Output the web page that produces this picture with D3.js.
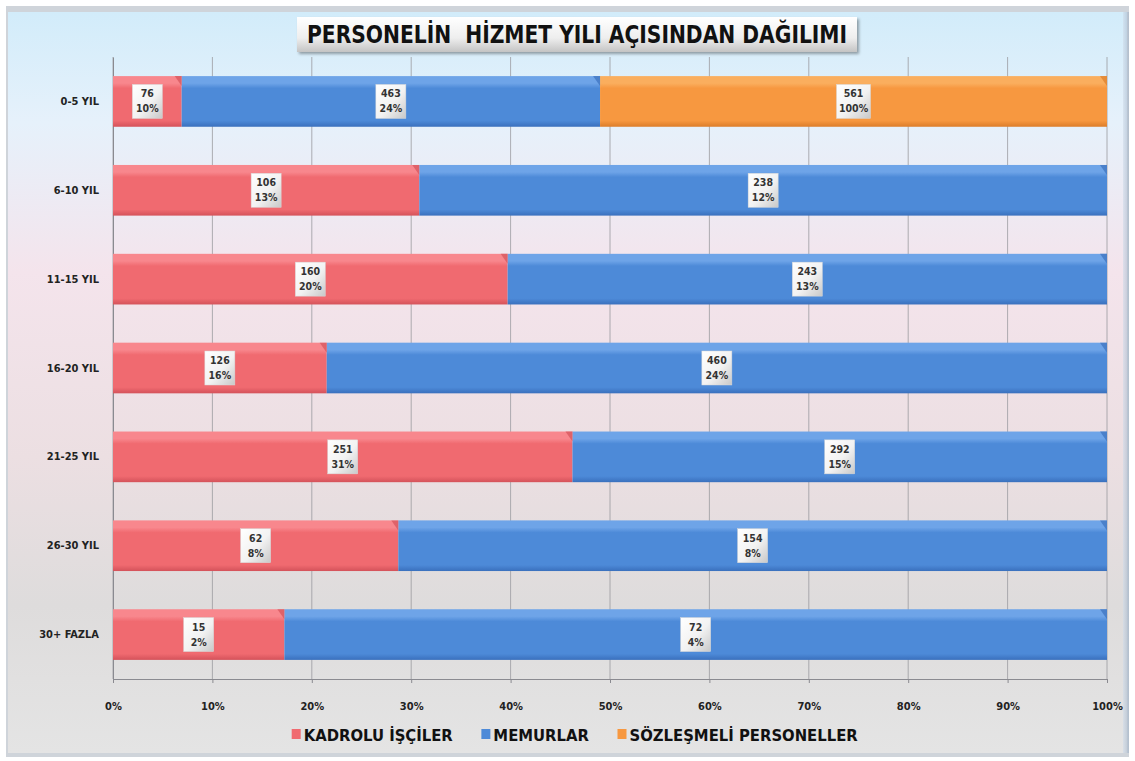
<!DOCTYPE html>
<html>
<head>
<meta charset="utf-8">
<script src="https://cdn.jsdelivr.net/npm/d3@7"></script>
<style>
  body { margin: 0; background: #fff; }
  svg { display: block; }
  text { font-family: "Liberation Sans Narrow", "DejaVu Sans Condensed", "Liberation Sans", sans-serif; font-weight: bold; }
</style>
</head>
<body>
<div id="chart"></div>
<script>
const categories = ["0-5 YIL", "6-10 YIL", "11-15 YIL", "16-20 YIL", "21-25 YIL", "26-30 YIL", "30+ FAZLA"]
const seriesNames = ["KADROLU İŞÇİLER", "MEMURLAR", "SÖZLEŞMELİ PERSONELLER"]
const kadrolu = [76, 106, 160, 126, 251, 62, 15]
const memurlar = [463, 238, 243, 460, 292, 154, 72]
const sozlesmeli = [561, 0, 0, 0, 0, 0, 0]
const kadroluPct = ["10%", "13%", "20%", "16%", "31%", "8%", "2%"]
const memurlarPct = ["24%", "12%", "13%", "24%", "15%", "8%", "4%"]
const sozlesmeliPct = ["100%", "", "", "", "", "", ""]
const xTicks = [0, 0.1, 0.2, 0.3, 0.4, 0.5, 0.6, 0.7, 0.8, 0.9, 1]
const title = "PERSONELİN  HİZMET YILI AÇISINDAN DAĞILIMI"

const colors = [
    { base: "#f06a70", light: "#f8878d", dark: "#d4525a" },
    { base: "#4d8ad8", light: "#6ea4e8", dark: "#3a70bd" },
    { base: "#f79840", light: "#faae5e", dark: "#dc7d2a" }
]

const width = 1135, height = 761
const margin = { top: 57, right: 28, bottom: 82, left: 113 }

const svg = d3.select("#chart").append("svg")
    .attr("width", width)
    .attr("height", height)

const defs = svg.append("defs")

// background gradient: blue at top, pink middle, grey at bottom
const bg = defs.append("linearGradient").attr("id", "bg")
    .attr("x1", 0).attr("y1", 0).attr("x2", 0).attr("y2", 1)
bg.append("stop").attr("offset", "0%").attr("stop-color", "#d2ecfa")
bg.append("stop").attr("offset", "15%").attr("stop-color", "#e6f1fb")
bg.append("stop").attr("offset", "35%").attr("stop-color", "#f4e4ec")
bg.append("stop").attr("offset", "60%").attr("stop-color", "#ecdfe2")
bg.append("stop").attr("offset", "80%").attr("stop-color", "#dedcdc")
bg.append("stop").attr("offset", "100%").attr("stop-color", "#e4e4e4")

const edge = defs.append("linearGradient").attr("id", "edge")
    .attr("x1", 0).attr("y1", 0).attr("x2", 1).attr("y2", 0)
edge.append("stop").attr("offset", "0%").attr("stop-color", "#d0dcea")
edge.append("stop").attr("offset", "100%").attr("stop-color", "#9fb0c4")

colors.forEach((c, i) => {
    const g = defs.append("linearGradient").attr("id", "bar" + i)
        .attr("x1", 0).attr("y1", 0).attr("x2", 0).attr("y2", 1)
    g.append("stop").attr("offset", "0%").attr("stop-color", c.light)
    g.append("stop").attr("offset", "14%").attr("stop-color", c.light)
    g.append("stop").attr("offset", "24%").attr("stop-color", c.base)
    g.append("stop").attr("offset", "88%").attr("stop-color", c.base)
    g.append("stop").attr("offset", "100%").attr("stop-color", c.dark)
})

const boxGrad = defs.append("linearGradient").attr("id", "box")
    .attr("x1", 0).attr("y1", 0).attr("x2", 1).attr("y2", 1)
boxGrad.append("stop").attr("offset", "0%").attr("stop-color", "#ffffff")
boxGrad.append("stop").attr("offset", "55%").attr("stop-color", "#f2f2f2")
boxGrad.append("stop").attr("offset", "100%").attr("stop-color", "#c8c8c8")

const titleGrad = defs.append("linearGradient").attr("id", "titlebox")
    .attr("x1", 0).attr("y1", 0).attr("x2", 0).attr("y2", 1)
titleGrad.append("stop").attr("offset", "0%").attr("stop-color", "#ffffff")
titleGrad.append("stop").attr("offset", "60%").attr("stop-color", "#eeeeee")
titleGrad.append("stop").attr("offset", "100%").attr("stop-color", "#c4c4c4")

const shadow = defs.append("filter").attr("id", "shadow")
    .attr("x", "-10%").attr("y", "-20%").attr("width", "130%").attr("height", "160%")
shadow.append("feDropShadow").attr("dx", 2).attr("dy", 2).attr("stdDeviation", 1.5)
    .attr("flood-color", "#000").attr("flood-opacity", 0.35)

// frame
svg.append("rect").attr("x", 6).attr("y", 6).attr("width", width - 12).attr("height", height - 10)
    .attr("fill", "#cfd4da")
svg.append("rect").attr("x", 8).attr("y", 12).attr("width", width - 16).attr("height", height - 20)
    .attr("fill", "url(#bg)")
svg.append("rect").attr("x", width - 12).attr("y", 12).attr("width", 6).attr("height", height - 20)
    .attr("fill", "url(#edge)").attr("opacity", 0.6)

// stacked data, normalised to 100%
const rows = categories.map((c, i) => ({
    cat: c,
    values: [kadrolu[i], memurlar[i], sozlesmeli[i]],
    pct: [kadroluPct[i], memurlarPct[i], sozlesmeliPct[i]]
}))

const x = d3.scaleLinear().domain([0, 1]).range([113, 1107])

const y = d3.scaleBand()
    .domain(categories)
    .range([margin.top, height - margin.bottom])
    .paddingInner(0.43)
    .paddingOuter(0.215)

// gridlines
svg.append("g")
    .selectAll("line")
    .data(xTicks)
    .join("line")
    .attr("x1", d => x(d)).attr("x2", d => x(d))
    .attr("y1", margin.top).attr("y2", height - margin.bottom)
    .attr("stroke", "#9a9aa0").attr("stroke-width", 0.8)

// axes
const xAxis = svg.append("g")
    .attr("transform", `translate(0,${height - margin.bottom})`)
    .call(d3.axisBottom(x).tickValues(xTicks).tickFormat(d3.format(".0%")).tickSize(4).tickPadding(19))
xAxis.select(".domain").attr("stroke", "#8a8a90")
xAxis.selectAll(".tick line").attr("stroke", "#8a8a90")
xAxis.selectAll("text").attr("font-size", 11).attr("fill", "#222")
    .attr("font-family", "\"DejaVu Sans Condensed\", sans-serif")

const yAxis = svg.append("g")
    .attr("transform", `translate(${margin.left},0)`)
    .call(d3.axisLeft(y).tickSize(0).tickPadding(14))
yAxis.select(".domain").attr("stroke", "#8a8a90")
yAxis.selectAll("text").attr("font-size", 11).attr("fill", "#222")
    .attr("font-family", "\"DejaVu Sans Condensed\", sans-serif")

// bars
const barGroups = svg.append("g")
    .selectAll("g")
    .data(rows)
    .join("g")

barGroups.each(function (row) {
    const total = d3.sum(row.values)
    let acc = 0
    const segs = row.values.map((v, k) => {
        const s = { k, v, p: row.pct[k], x0: acc / total, x1: (acc + v) / total }
        acc += v
        return s
    }).filter(s => s.v > 0)

    const g = d3.select(this)
    const yy = y(row.cat), h = y.bandwidth()

    g.selectAll("rect.seg")
        .data(segs)
        .join("rect")
        .attr("class", "seg")
        .attr("x", s => x(s.x0))
        .attr("y", yy)
        .attr("width", s => x(s.x1) - x(s.x0))
        .attr("height", h)
        .attr("fill", s => "url(#bar" + s.k + ")")

    // small bevel at the end of each segment
    g.selectAll("path.bevel")
        .data(segs)
        .join("path")
        .attr("class", "bevel")
        .attr("d", s => {
            const xe = x(s.x1)
            return `M${xe - 7},${yy} L${xe},${yy} L${xe},${yy + 10} Z`
        })
        .attr("fill", s => colors[s.k].dark)
        .attr("opacity", 0.7)

    const labels = g.selectAll("g.lab")
        .data(segs)
        .join("g")
        .attr("class", "lab")
        .attr("transform", s => `translate(${(x(s.x0) + x(s.x1)) / 2},${yy + h / 2})`)

    labels.append("rect")
        .attr("x", s => -(s.p.length > 3 ? 17 : 15))
        .attr("y", -17)
        .attr("width", s => s.p.length > 3 ? 34 : 30)
        .attr("height", 34)
        .attr("fill", "url(#box)")
        .attr("stroke", "#d8d8d8").attr("stroke-width", 0.5)

    labels.append("text")
        .attr("text-anchor", "middle")
        .attr("y", -4)
        .attr("font-size", 10.5)
        .attr("fill", "#333")
        .attr("font-family", "\"DejaVu Sans Condensed\", sans-serif")
        .text(s => s.v)

    labels.append("text")
        .attr("text-anchor", "middle")
        .attr("y", 11)
        .attr("font-size", 10.5)
        .attr("fill", "#333")
        .attr("font-family", "\"DejaVu Sans Condensed\", sans-serif")
        .text(s => s.p)
})

// title
const tg = svg.append("g")
tg.append("rect")
    .attr("x", 297).attr("y", 17).attr("width", 560).attr("height", 35)
    .attr("fill", "url(#titlebox)")
    .attr("filter", "url(#shadow)")
tg.append("text")
    .attr("x", 577).attr("y", 43)
    .attr("text-anchor", "middle")
    .attr("font-size", 24)
    .attr("fill", "#111")
    .attr("textLength", 540)
    .attr("lengthAdjust", "spacingAndGlyphs")
    .style("white-space", "pre")
    .text(title)

// legend
const legend = svg.append("g").attr("transform", "translate(0,735)")
const items = legend.selectAll("g")
    .data(seriesNames)
    .join("g")
items.append("rect")
    .attr("y", -6).attr("width", 9).attr("height", 10)
    .attr("fill", (d, i) => colors[i].base)
items.append("text")
    .attr("x", 12).attr("y", 6)
    .attr("font-size", 16.5)
    .attr("fill", "#111")
    .text(d => d)

const gap = 28
let widths = []
items.each(function () { widths.push(this.getBBox().width) })
const totalW = d3.sum(widths) + gap * (widths.length - 1)
let cx = 575 - totalW / 2
items.attr("transform", (d, i) => {
    const t = `translate(${cx},0)`
    cx += widths[i] + gap
    return t
})
</script>
</body>
</html>
